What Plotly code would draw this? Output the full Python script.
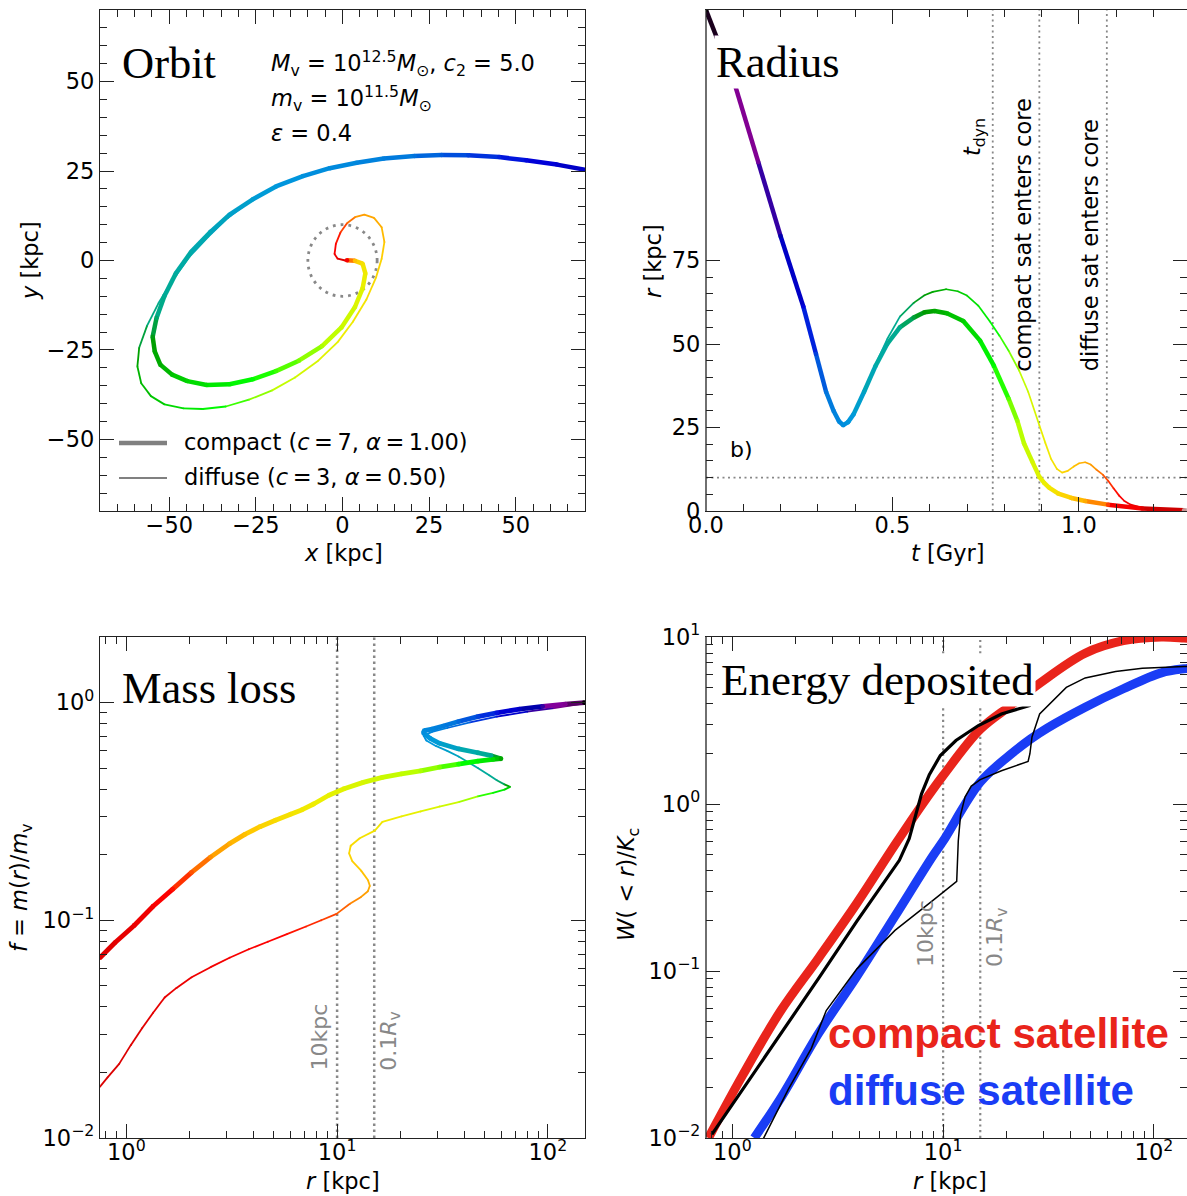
import plotly.graph_objects as go

W_PX, H_PX = 1187, 1196

# ---------------------------------------------------------------- parameters
T_MAX = 1.3            # Gyr, end of the colour scale
R_CORE = 10.0          # kpc
R_VIR = 150.0          # kpc
T_DYN = 0.769          # Gyr
T_CORE_COMPACT = 0.894
T_CORE_DIFFUSE = 1.075

# ---------------------------------------------------------------- radius vs time
t_rad_compact = [0.0, 0.028, 0.077, 0.14, 0.20, 0.261, 0.295, 0.322, 0.342, 0.357, 0.368, 0.381,
                 0.396, 0.424, 0.455, 0.486, 0.52, 0.557, 0.586, 0.613, 0.646, 0.69, 0.735, 0.772,
                 0.812, 0.835, 0.853, 0.875, 0.894, 0.907, 0.92, 0.945, 0.98, 1.017, 1.078, 1.17,
                 1.282, 1.30]
r_rad_compact = [150, 142, 127.8, 104.5, 82.3, 61.2, 47, 35.7, 30.0, 26.8, 25.7, 26.6,
                 29.0, 35.7, 43.5, 50, 55, 57.9, 59.5, 59.9, 59.2, 56.9, 51, 43.5,
                 33.5, 27.0, 20.2, 14.8, 10.2, 8.4, 7.0, 5.2, 3.9, 3.0, 1.9, 0.75, 0.2, 0.15]

t_rad_diffuse = [0.0, 0.028, 0.077, 0.14, 0.20, 0.261, 0.295, 0.322, 0.342, 0.357, 0.368, 0.381,
                 0.396, 0.424, 0.455, 0.486, 0.52, 0.557, 0.586, 0.608, 0.644, 0.675, 0.70, 0.73,
                 0.761, 0.787, 0.812, 0.84, 0.864, 0.894, 0.91, 0.925, 0.941, 0.955, 0.97, 0.986,
                 1.001, 1.017, 1.032, 1.047, 1.065, 1.078, 1.093, 1.108, 1.122, 1.139, 1.168, 1.20,
                 1.282, 1.30]
r_rad_diffuse = [150, 142, 127.8, 104.5, 82.3, 61.2, 47, 35.7, 30.0, 26.8, 25.7, 26.6,
                 29.0, 35.7, 44, 51.5, 58.2, 62.3, 64.6, 65.6, 66.4, 65.8, 64.5, 61.5,
                 56.8, 52.5, 47.9, 42, 35.7, 25.7, 20.4, 15.7, 12.6, 11.5, 12.0, 13.3,
                 14.3, 14.6, 13.9, 12.4, 10.8, 9.1, 6.8, 4.6, 3.0, 1.9, 1.0, 0.5,
                 0.1, 0.1]

# ---------------------------------------------------------------- orbit in the plane
x_orb_compact = [70.8, 61.9, 53.0, 45.2, 36.3, 28.6, 20.8, 11.9, 4.1, -3.7, -11.4, -19.2, -25.9,
                 -32.6, -38.1, -43.7, -48.1, -51.4, -53.7, -54.8, -54.2, -52.6, -49.2, -44.8, -39.2,
                 -32.6, -25.9, -19.2, -12.6, -5.9, -0.3, 3.6, 5.8, 6.6, 5.8, 3.6, 1.3]
y_orb_compact = [25.2, 26.8, 28.0, 28.9, 29.4, 29.5, 29.2, 28.5, 27.3, 25.8, 23.6, 20.7, 17.1,
                 12.8, 8.0, 2.4, -3.6, -9.9, -16.1, -21.3, -25.4, -29.1, -31.9, -33.7, -34.8,
                 -34.6, -33.2, -30.9, -28.0, -23.9, -18.7, -13.0, -7.8, -3.6, -0.9, -0.1, 0.1]
t_orb_compact = [0.22, 0.243, 0.264, 0.279, 0.296, 0.309, 0.322, 0.339, 0.353, 0.364, 0.375, 0.391,
                 0.405, 0.421, 0.437, 0.456, 0.477, 0.50, 0.535, 0.575, 0.613, 0.62, 0.665, 0.70,
                 0.725, 0.754, 0.778, 0.80, 0.82, 0.84, 0.859, 0.88, 0.897, 0.915, 0.935, 0.99, 1.12]

x_orb_diffuse = [70.8, 61.9, 53.0, 45.2, 36.3, 28.6, 20.8, 11.9, 4.1, -3.7, -11.4, -19.2, -25.9,
                 -33.1, -38.7, -44.2, -49.2, -53.1, -56.4, -58.7, -59.2, -58.1, -55.3, -51.4, -45.9,
                 -40.3, -33.7, -27.0, -20.3, -13.7, -7.0, -1.4, 3.0, 6.9, 9.7, 11.3, 12.1, 11.3, 9.1,
                 6.3, 3.6, 1.3, -0.6, -1.9, -2.3, -1.4, 0.8]
y_orb_diffuse = [25.2, 26.8, 28.0, 28.9, 29.4, 29.5, 29.2, 28.5, 27.3, 25.8, 23.6, 20.7, 17.1,
                 11.9, 6.7, 1.0, -5.7, -11.9, -18.2, -24.4, -29.6, -34.3, -37.9, -40.2, -41.3,
                 -41.5, -40.8, -38.9, -36.3, -32.7, -28.0, -22.8, -17.1, -10.9, -4.7, 0.5, 5.2, 9.3,
                 11.9, 12.8, 12.1, 10.4, 7.8, 4.7, 1.8, 0.5, 0.0]
t_orb_diffuse = [0.22, 0.243, 0.264, 0.279, 0.296, 0.309, 0.322, 0.339, 0.353, 0.364, 0.375, 0.391,
                 0.405, 0.422, 0.438, 0.458, 0.48, 0.51, 0.537, 0.575, 0.63, 0.645, 0.66, 0.69, 0.728,
                 0.755, 0.785, 0.815, 0.842, 0.865, 0.885, 0.903, 0.92, 0.938, 0.955, 0.965, 0.985,
                 1.01, 1.02, 1.03, 1.045, 1.067, 1.088, 1.104, 1.123, 1.15, 1.2]

# ---------------------------------------------------------------- bound mass fraction vs radius
r_mass_compact = [149, 121, 94.4, 73.4, 57.2, 46.5, 37.7, 31.9, 28.2, 25.9, 25.7, 27.6, 30.6, 37.7,
                  46.5, 53.8, 59.9, 54.9, 46.5, 37.7, 30.6, 24.9, 20.2, 16.4, 13.3, 10.8, 9.14,
                  7.74, 6.83, 6.02, 5.10, 4.31, 3.65, 3.09, 2.51, 2.04, 1.66, 1.34, 1.09, 0.885, 0.75]
f_mass_compact = [1.0, 0.983, 0.96, 0.933, 0.897, 0.861, 0.818, 0.78, 0.755, 0.743, 0.725, 0.685,
                  0.65, 0.612, 0.588, 0.57, 0.552, 0.548, 0.538, 0.521, 0.505, 0.485, 0.47, 0.453,
                  0.43, 0.402, 0.375, 0.342, 0.322, 0.307, 0.288, 0.269, 0.248, 0.225, 0.195, 0.166,
                  0.139, 0.116, 0.0946, 0.079, 0.0673]
t_mass_compact = [0.0, 0.095, 0.17, 0.225, 0.27, 0.297, 0.317, 0.334, 0.349, 0.362, 0.368, 0.388,
                  0.404, 0.432, 0.469, 0.512, 0.613, 0.715, 0.757, 0.79, 0.822, 0.84, 0.853, 0.866,
                  0.879, 0.891, 0.90, 0.914, 0.922, 0.933, 0.947, 0.968, 0.99, 1.013, 1.045, 1.07,
                  1.098, 1.125, 1.145, 1.16, 1.17]

r_mass_diffuse = [149, 107, 79.9, 57.2, 42.7, 33.3, 28.2, 25.7, 26.5, 29.4, 33.3, 37.7, 46.5, 52.7,
                  57.2, 62.2, 66.2, 62.2, 54.9, 46.5, 37.7, 30.6, 24.9, 20.2, 16.4, 15.1, 12.8, 11.6,
                  11.4, 11.8, 13.0, 14.0, 14.3, 14.0, 13.0, 11.5, 9.94, 8.41, 7.12, 5.78, 4.69, 3.81,
                  3.09, 2.51, 2.04, 1.73, 1.52, 1.34, 1.19, 1.05, 0.925, 0.815, 0.75]
f_mass_diffuse = [0.991, 0.944, 0.908, 0.861, 0.811, 0.764, 0.733, 0.705, 0.669, 0.632, 0.60, 0.565,
                  0.501, 0.463, 0.44, 0.421, 0.41, 0.398, 0.385, 0.371, 0.349, 0.333, 0.316, 0.30,
                  0.283, 0.258, 0.238, 0.22, 0.203, 0.187, 0.169, 0.153, 0.144, 0.136, 0.128, 0.119,
                  0.107, 0.10, 0.0936, 0.0863, 0.0797, 0.0736, 0.0673, 0.0609, 0.0547, 0.0489,
                  0.0442, 0.0376, 0.032, 0.0267, 0.0219, 0.019, 0.0172]
t_mass_diffuse = [0.0, 0.13, 0.207, 0.27, 0.306, 0.33, 0.349, 0.368, 0.38, 0.397, 0.414, 0.432,
                  0.468, 0.49, 0.513, 0.556, 0.644, 0.733, 0.772, 0.817, 0.856, 0.88, 0.896, 0.91,
                  0.923, 0.927, 0.94, 0.953, 0.958, 0.967, 0.982, 0.997, 1.01, 1.027, 1.039, 1.055,
                  1.072, 1.083, 1.092, 1.101, 1.108, 1.115, 1.122, 1.13, 1.138, 1.145, 1.15, 1.157,
                  1.163, 1.168, 1.175, 1.18, 1.185]

# ---------------------------------------------------------------- energy deposited W(<r)/K_c
r_W_compact = [0.77, 1.12, 1.70, 2.57, 3.90, 5.91, 7.9, 10.0, 15.0, 21.0, 28.8, 47.2, 71.6, 108.4, 139, 150]
W_compact = [0.01, 0.0238, 0.058, 0.12, 0.255, 0.57, 0.98, 1.48, 2.8, 3.9, 5.3, 8.0, 9.5, 10.0, 9.86, 9.8]
r_W_diffuse = [1.27, 1.70, 2.57, 3.90, 5.91, 8.95, 10.0, 15.0, 20.6, 26.0, 31.2, 47.2, 71.6, 108.4, 139, 150]
W_diffuse = [0.01, 0.0174, 0.0424, 0.0929, 0.213, 0.49, 0.6, 1.35, 1.95, 2.45, 2.85, 3.8, 4.9, 6.1, 6.45, 6.5]

r_W_compact_sim = [0.8, 1.12, 1.70, 2.57, 3.90, 5.44, 6.2, 6.9, 7.4, 7.9, 8.6, 9.7, 11.5, 14.7, 18.9, 25.3, 26.0]
W_compact_sim = [0.0105, 0.0195, 0.0424, 0.0906, 0.199, 0.363, 0.46, 0.62, 0.85, 1.15, 1.5, 1.95, 2.4, 2.95, 3.46, 3.84, 3.9]
r_W_diffuse_sim = [1.38, 1.84, 2.37, 2.79, 3.90, 5.91, 8.95, 11.6, 11.8, 12.1, 12.7, 13.6, 15.0, 18.9,
                   25.3, 25.8, 26.4, 28.7, 38.4, 47.2, 65.8, 88.1, 139, 150]
W_diffuse_sim = [0.0095, 0.0195, 0.0344, 0.058, 0.103, 0.175, 0.265, 0.344, 0.6, 0.86, 1.1, 1.28, 1.4,
                 1.58, 1.8, 2.0, 2.52, 3.46, 4.99, 5.69, 6.22, 6.49, 6.65, 6.66]

# ---------------------------------------------------------------- colour map (nipy_spectral)
_NS = [(0.00, (0, 0, 0)), (0.05, (0.4667, 0, 0.5333)), (0.10, (0.5333, 0, 0.6)),
       (0.15, (0, 0, 0.6667)), (0.20, (0, 0, 0.8667)), (0.25, (0, 0.4667, 0.8667)),
       (0.30, (0, 0.6, 0.8667)), (0.35, (0, 0.6667, 0.6667)), (0.40, (0, 0.6667, 0.5333)),
       (0.45, (0, 0.6, 0)), (0.50, (0, 0.7333, 0)), (0.55, (0, 0.8667, 0)), (0.60, (0, 1, 0)),
       (0.65, (0.7333, 1, 0)), (0.70, (0.9333, 0.9333, 0)), (0.75, (1, 0.8, 0)),
       (0.80, (1, 0.6, 0)), (0.85, (1, 0, 0)), (0.90, (0.8667, 0, 0)), (0.95, (0.8, 0, 0)),
       (1.00, (0.8, 0.8, 0.8))]


def cmap(v):
    v = min(max(v, 0.0), 1.0)
    for (a, ca), (b, cb) in zip(_NS[:-1], _NS[1:]):
        if v <= b:
            w = (v - a) / (b - a)
            c = [ca[k] + w * (cb[k] - ca[k]) for k in range(3)]
            return 'rgb(%d,%d,%d)' % tuple(round(255 * q) for q in c)
    return 'rgb(204,204,204)'


fig = go.Figure()


def add_time_coloured(xs, ys, ts, width, xa, ya):
    """A line whose colour follows the time of each sample."""
    for i in range(len(xs) - 1):
        c = cmap(0.5 * (ts[i] + ts[i + 1]) / T_MAX)
        fig.add_trace(go.Scatter(x=[xs[i], xs[i + 1]], y=[ys[i], ys[i + 1]], mode='lines',
                                 line=dict(color=c, width=width), xaxis=xa, yaxis=ya,
                                 showlegend=False, hoverinfo='skip'))
    fig.add_trace(go.Scatter(x=xs, y=ys, mode='markers',
                             marker=dict(size=width, color=[cmap(t / T_MAX) for t in ts], line=dict(width=0)),
                             xaxis=xa, yaxis=ya, showlegend=False, hoverinfo='skip'))


def add_plain(xs, ys, color, width, xa, ya, dash=None, shape='linear'):
    fig.add_trace(go.Scatter(x=xs, y=ys, mode='lines',
                             line=dict(color=color, width=width, dash=dash, shape=shape),
                             xaxis=xa, yaxis=ya, showlegend=False, hoverinfo='skip'))


DOT = '2px,3.5px'
GREY = '#888888'

# ---- orbit panel
add_time_coloured(x_orb_diffuse, y_orb_diffuse, t_orb_diffuse, 1.8, 'x', 'y')
add_time_coloured(x_orb_compact, y_orb_compact, t_orb_compact, 4.5, 'x', 'y')

# ---- radius panel
add_plain([0, T_MAX], [R_CORE, R_CORE], GREY, 1.8, 'x2', 'y2', DOT)
for tl in (T_DYN, T_CORE_COMPACT, T_CORE_DIFFUSE):
    add_plain([tl, tl], [0, 150], GREY, 1.8, 'x2', 'y2', DOT)
add_time_coloured(t_rad_diffuse, r_rad_diffuse, t_rad_diffuse, 1.7, 'x2', 'y2')
add_time_coloured(t_rad_compact, r_rad_compact, t_rad_compact, 4.5, 'x2', 'y2')

# ---- mass loss panel
for rl in (R_CORE, 0.1 * R_VIR):
    add_plain([rl, rl], [0.01, 2.0], GREY, 2.5, 'x3', 'y3', '2.5px,3.5px')
add_time_coloured(r_mass_diffuse, f_mass_diffuse, t_mass_diffuse, 1.8, 'x3', 'y3')
add_time_coloured(r_mass_compact, f_mass_compact, t_mass_compact, 4.8, 'x3', 'y3')

# ---- energy panel
for rl in (R_CORE, 0.1 * R_VIR):
    add_plain([rl, rl], [0.01, 10.0], GREY, 2.2, 'x4', 'y4', '2.2px,3.5px')
RED = '#e9241b'
BLUE = '#1a3df5'
add_plain(r_W_compact, W_compact, RED, 9, 'x4', 'y4', shape='spline')
add_plain(r_W_compact_sim, W_compact_sim, 'black', 3.2, 'x4', 'y4')
add_plain(r_W_diffuse, W_diffuse, BLUE, 9, 'x4', 'y4', shape='spline')
add_plain(r_W_diffuse_sim, W_diffuse_sim, 'black', 1.5, 'x4', 'y4')

# ---------------------------------------------------------------- axes
LINE = '#222222'
CLEAR = 'rgba(0,0,0,0)'
TICKFONT = dict(family='DejaVu Sans', size=22.5, color='black')


def axis(domain, anchor, letter, **kw):
    d = dict(domain=domain, anchor=anchor, showline=True, linecolor=LINE, linewidth=1.3,
             mirror='ticks', ticks='inside', ticklen=14, tickwidth=1.3, tickcolor=LINE,
             showgrid=False, zeroline=False, tickfont=TICKFONT,
             ticklabelstandoff=-6 if letter == 'x' else 0, automargin=False)
    d.update(kw)
    return d


def minor(**kw):
    d = dict(ticks='inside', ticklen=7, tickwidth=1.1, tickcolor=LINE, showgrid=False)
    d.update(kw)
    return d


XL = [100 / W_PX, 585 / W_PX]
XR = [706 / W_PX, 1.0]
YT = [1 - 511 / H_PX, 1 - 10 / H_PX]
YB = [1 - 1138 / H_PX, 1 - 637 / H_PX]

LOG_MINOR_R = [0.8, 0.9] + [k for k in range(2, 10)] + [10 * k for k in range(2, 10)]
LOG_MINOR_F = [0.01 * k for k in range(2, 10)] + [0.1 * k for k in range(2, 10)] + [2.0]
LOG_MINOR_W = [0.01 * k for k in range(2, 10)] + [0.1 * k for k in range(2, 10)] + [float(k) for k in range(2, 10)]
R_MAJOR = [0, 25, 50, 75]
R_MINOR = [v for v in range(5, 75, 5) if v % 25]
W_MAJOR = [0.01, 0.1, 1, 10]

# the right-hand panels are cut at the figure edge: their vertical spines are transparent
# (ticks stay), and the left spine is drawn separately below
fig.update_layout(
    xaxis=axis(XL, 'y', 'x', range=[-70, 70], tickvals=[-50, -25, 0, 25, 50],
               minor=minor(dtick=5, tick0=0)),
    yaxis=axis(YT, 'x', 'y', range=[-70, 70], tickvals=[-50, -25, 0, 25, 50],
               minor=minor(dtick=5, tick0=0)),
    xaxis2=axis(XR, 'y2', 'x', range=[0, 1.29], tickvals=[0, 0.5, 1.0], ticktext=['0.0', '0.5', '1.0'],
                minor=minor(dtick=0.1, tick0=0)),
    yaxis2=axis(YT, 'x2', 'y', range=[0, 150], tickvals=R_MAJOR, linecolor=CLEAR,
                minor=minor(tickvals=R_MINOR)),
    xaxis3=axis(XL, 'y3', 'x', type='log', range=[-0.1249, 2.1761], tickvals=[1, 10, 100],
                ticktext=['10<sup>0</sup>', '10<sup>1</sup>', '10<sup>2</sup>'],
                minor=minor(tickvals=LOG_MINOR_R)),
    yaxis3=axis(YB, 'x3', 'y', type='log', range=[-2, 0.30103], tickvals=[0.01, 0.1, 1],
                ticktext=['10<sup>\u22122</sup>', '10<sup>\u22121</sup>', '10<sup>0</sup>'],
                minor=minor(tickvals=LOG_MINOR_F)),
    xaxis4=axis(XR, 'y4', 'x', type='log', range=[-0.1249, 2.1569], tickvals=[1, 10, 100],
                ticktext=['10<sup>0</sup>', '10<sup>1</sup>', '10<sup>2</sup>'],
                minor=minor(tickvals=LOG_MINOR_R)),
    yaxis4=axis(YB, 'x4', 'y', type='log', range=[-2, 1], tickvals=W_MAJOR, linecolor=CLEAR,
                ticktext=['10<sup>\u22122</sup>', '10<sup>\u22121</sup>', '10<sup>0</sup>', '10<sup>1</sup>'],
                minor=minor(tickvals=LOG_MINOR_W)),
)

for xd, yd in (('x2 domain', 'y2 domain'), ('x4 domain', 'y4 domain')):
    fig.add_shape(type='line', xref=xd, yref=yd, x0=0, x1=0, y0=0, y1=1,
                  line=dict(color=LINE, width=1.3), layer='above')

# core radius circle in the orbit plane
fig.add_shape(type='circle', xref='x', yref='y', x0=-R_CORE, x1=R_CORE, y0=-R_CORE, y1=R_CORE,
              line=dict(color=GREY, width=2.8, dash='2.8px,5px'), layer='below')

# ---------------------------------------------------------------- text
def px(x):
    return x / W_PX


def py(y):
    return 1 - y / H_PX


def note(text, x, y, size=22.5, family='DejaVu Sans', color='black', xanchor='left',
         yanchor='middle', angle=0, bg=None, xref='paper', yref='paper', **kw):
    if xref == 'paper':
        x = px(x)
    if yref == 'paper':
        y = py(y)
    d = dict(text=text, x=x, y=y, xref=xref, yref=yref, showarrow=False, xanchor=xanchor,
             yanchor=yanchor, textangle=angle, font=dict(family=family, size=size, color=color))
    if bg:
        d.update(bgcolor=bg, borderpad=1)
    d.update(kw)
    fig.add_annotation(**d)


SERIF = 'Liberation Serif'
TH = '\u2009'   # thin space, as around math operators

# orbit panel
note('Orbit', 120, 63, size=44.5, family=SERIF)
note('<i>M</i><sub>v</sub> = 10<sup>12.5</sup><i>M</i><sub>\u2299</sub>, <i>c</i><sub>2</sub> = 5.0', 269, 63)
note('<i>m</i><sub>v</sub> = 10<sup>11.5</sup><i>M</i><sub>\u2299</sub>', 269, 98)
note('<i>\u03b5</i> = 0.4', 269, 133)
for yy, wdt, lab in ((443, 4.5, f'compact (<i>c</i>{TH}={TH}7, <i>\u03b1</i>{TH}={TH}1.00)'),
                     (478, 2.0, f'diffuse (<i>c</i>{TH}={TH}3, <i>\u03b1</i>{TH}={TH}0.50)')):
    fig.add_shape(type='line', xref='paper', yref='paper', x0=px(119), x1=px(167), y0=py(yy), y1=py(yy),
                  line=dict(color='#808080', width=wdt))
    note(lab, 182, yy - 1)
note('<i>x</i> [kpc]', 343, 553, xanchor='center')
note('<i>y</i> [kpc]', 30, 261, xanchor='center', angle=-90)

# radius panel
note('Radius', 714, 62, size=44.5, family=SERIF, bg='white')
note('b)', 728, 449, size=22)
note('<i>t</i><sub>dyn</sub>', T_DYN, 105.6, xref='x2', yref='y2', xanchor='right', yanchor='bottom',
     angle=-90, xshift=-1)
note('compact sat enters core', T_CORE_COMPACT, 41.2, xref='x2', yref='y2', xanchor='right',
     yanchor='bottom', angle=-90, xshift=-1)
note('diffuse sat enters core', T_CORE_DIFFUSE, 41.2, xref='x2', yref='y2', xanchor='right',
     yanchor='bottom', angle=-90, xshift=-1)
note('<i>t</i> [Gyr]', 948, 553, xanchor='center')
note('<i>r</i> [kpc]', 653, 261, xanchor='center', angle=-90)

# mass loss panel
note('Mass loss', 120, 688, size=44.5, family=SERIF)
note('10kpc', 1.0, -1.699, xref='x3', yref='y3', xanchor='right', yanchor='bottom', angle=-90,
     color=GREY, size=22, xshift=-3)
note('0.1<i>R</i><sub>v</sub>', 1.1761, -1.699, xref='x3', yref='y3', xanchor='left', yanchor='bottom',
     angle=-90, color=GREY, size=22)
note('<i>r</i> [kpc]', 343, 1181, xanchor='center')
note('<i>f</i> = <i>m</i>(<i>r</i>)/<i>m</i><sub>v</sub>', 21, 888, xanchor='center', angle=-90)

# energy panel
note('Energy deposited', 719, 680, size=45, family=SERIF, bg='white')
note('10kpc', 1.0, -0.987, xref='x4', yref='y4', xanchor='right', yanchor='bottom', angle=-90,
     color=GREY, size=22, xshift=-3)
note('0.1<i>R</i><sub>v</sub>', 1.1761, -0.987, xref='x4', yref='y4', xanchor='left', yanchor='bottom',
     angle=-90, color=GREY, size=22)
note('compact satellite', 826, 1033, size=42, family='Liberation Sans', color=RED, font_weight='bold')
note('diffuse satellite', 826, 1090, size=42, family='Liberation Sans', color=BLUE, font_weight='bold')
note('<i>r</i> [kpc]', 950, 1181, xanchor='center')
note('<i>W</i>( < <i>r</i>)/<i>K</i><sub>c</sub>', 628, 885, xanchor='center', angle=-90)

fig.update_layout(width=W_PX, height=H_PX, margin=dict(l=0, r=0, t=0, b=0),
                  paper_bgcolor='white', plot_bgcolor='white', showlegend=False,
                  font=dict(family='DejaVu Sans', color='black'))

fig.write_html('out.html')
